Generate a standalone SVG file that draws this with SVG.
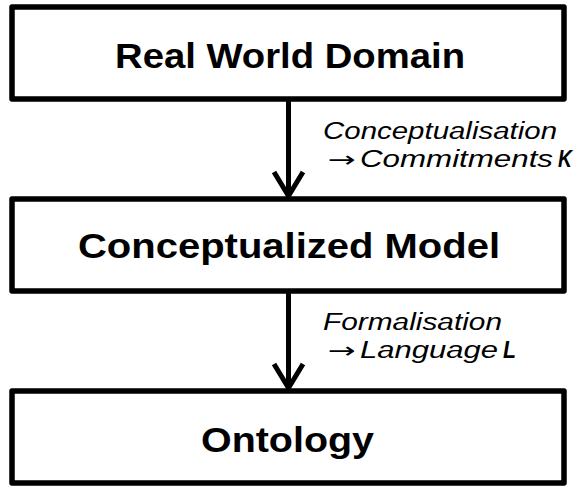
<svg xmlns="http://www.w3.org/2000/svg" width="574" height="486" viewBox="0 0 574 486">
<style>
.box{fill:#fff;stroke:#000;stroke-width:5.5;stroke-linejoin:round}
.title{font-family:"Liberation Sans",Arial,sans-serif;font-weight:bold;font-size:35px;fill:#000}
.lab{font-family:"Liberation Sans",Arial,sans-serif;font-style:italic;font-size:23px;fill:#000}
.arr{font-family:"DejaVu Sans","Liberation Sans",sans-serif;font-size:22px;fill:#000}
.b{font-weight:bold}
.conn{fill:none;stroke:#000;stroke-width:5}
</style>
<rect width="574" height="486" fill="#fff"/>
<g id="connectors">
  <line class="conn" x1="288.5" y1="99" x2="288.5" y2="194"/>
  <polyline class="conn" points="274,172 288.5,196 303,172"/>
  <line class="conn" x1="288.5" y1="291" x2="288.5" y2="386"/>
  <polyline class="conn" points="274,364 288.5,388 303,364"/>
  <text class="lab" x="323" y="139" textLength="234" lengthAdjust="spacingAndGlyphs">Conceptualisation</text>
  <text class="arr" x="328" y="167" textLength="28" lengthAdjust="spacingAndGlyphs">→</text>
  <text class="lab" x="360" y="167" textLength="193" lengthAdjust="spacingAndGlyphs">Commitments</text>
  <text class="lab b" x="558" y="167" textLength="14" lengthAdjust="spacingAndGlyphs">K</text>
  <text class="lab" x="323" y="330" textLength="179" lengthAdjust="spacingAndGlyphs">Formalisation</text>
  <text class="arr" x="328" y="358" textLength="28" lengthAdjust="spacingAndGlyphs">→</text>
  <text class="lab" x="360" y="358" textLength="138" lengthAdjust="spacingAndGlyphs">Language</text>
  <text class="lab b" x="503" y="358" textLength="13" lengthAdjust="spacingAndGlyphs">L</text>
</g>
<g id="real-world-domain">
  <rect class="box" x="12" y="7" width="552" height="92"/>
  <text class="title" x="115" y="68" textLength="350" lengthAdjust="spacingAndGlyphs">Real World Domain</text>
</g>
<g id="conceptualized-model">
  <rect class="box" x="12" y="199" width="552" height="92"/>
  <text class="title" x="78" y="258" textLength="422" lengthAdjust="spacingAndGlyphs">Conceptualized Model</text>
</g>
<g id="ontology">
  <rect class="box" x="12" y="391" width="552" height="92"/>
  <text class="title" x="201" y="452" textLength="173" lengthAdjust="spacingAndGlyphs">Ontology</text>
</g>
</svg>
